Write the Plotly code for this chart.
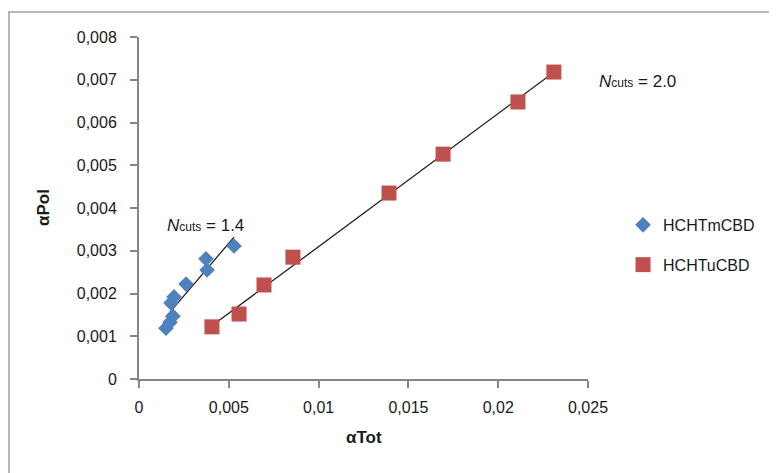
import numpy as np
import plotly.graph_objects as go

# Data
m_tot = [0.00150, 0.00173, 0.00189, 0.00178, 0.00195, 0.00262, 0.00373, 0.00379, 0.00529]
m_pol = [0.00119, 0.00133, 0.00147, 0.00178, 0.00192, 0.00222, 0.00281, 0.00255, 0.00311]
u_tot = [0.00406, 0.00557, 0.00696, 0.00857, 0.01392, 0.01693, 0.02110, 0.02310]
u_pol = [0.00122, 0.00152, 0.00220, 0.00285, 0.00435, 0.00526, 0.00648, 0.00718]
x_ticks = [0, 0.005, 0.01, 0.015, 0.02, 0.025]
x_labels = ["0", "0,005", "0,01", "0,015", "0,02", "0,025"]
y_ticks = [0, 0.001, 0.002, 0.003, 0.004, 0.005, 0.006, 0.007, 0.008]
y_labels = ["0", "0,001", "0,002", "0,003", "0,004", "0,005", "0,006", "0,007", "0,008"]

BLUE = "#4F81BD"
RED = "#C0504D"
FONT = "Liberation Sans"
TXT = "#1a1a1a"
X_MAX = 0.025
Y_MAX = 0.008

def trend(xs, ys):
    k, b = np.polyfit(xs, ys, 1)
    x0, x1 = min(xs), max(xs)
    return [x0, x1], [k * x0 + b, k * x1 + b]

fig = go.Figure()
tx, ty = trend(m_tot, m_pol)
fig.add_trace(go.Scatter(x=tx, y=ty, mode="lines", line=dict(color="#202020", width=1.3),
                         showlegend=False, hoverinfo="skip"))
tx, ty = trend(u_tot, u_pol)
fig.add_trace(go.Scatter(x=tx, y=ty, mode="lines", line=dict(color="#202020", width=1.3),
                         showlegend=False, hoverinfo="skip"))
fig.add_trace(go.Scatter(x=m_tot, y=m_pol, mode="markers", name="HCHTmCBD", legendgroup="m",
                         marker=dict(symbol="diamond", size=12, color=BLUE)))
fig.add_trace(go.Scatter(x=u_tot, y=u_pol, mode="markers", name="HCHTuCBD", legendgroup="u",
                         marker=dict(symbol="square", size=15, color=RED)))

axis_common = dict(showgrid=False, zeroline=False, showline=True, linecolor="#868686",
                   linewidth=2, ticks="outside", tickcolor="#868686", ticklen=7, tickwidth=1.5,
                   tickfont=dict(family=FONT, size=16, color=TXT))
fig.update_xaxes(range=[0, X_MAX], tickvals=x_ticks, ticktext=x_labels,
                 ticklabelstandoff=6, **axis_common)
fig.update_yaxes(range=[0, Y_MAX], tickvals=y_ticks, ticktext=y_labels,
                 ticklabelstandoff=10, **axis_common)

# axis titles
fig.add_annotation(x=-0.2138, y=0.5, xref="paper", yref="paper", showarrow=False,
                   text="<b>αPol</b>", textangle=-90, xanchor="center", yanchor="middle",
                   font=dict(family=FONT, size=17, color=TXT))
fig.add_annotation(x=0.5, y=-0.1725, xref="paper", yref="paper", showarrow=False,
                   text="<b>αTot</b>", xanchor="center", yanchor="middle",
                   font=dict(family=FONT, size=17, color=TXT))

fig.add_annotation(x=0.00373, y=0.00360, xref="x", yref="y", showarrow=False,
                   xanchor="center", yanchor="middle",
                   text="<i>N</i><span style='font-size:12px'>cuts</span> = 1.4",
                   font=dict(family=FONT, size=17, color=TXT))
fig.add_annotation(x=0.02778 / X_MAX, y=0.00697 / Y_MAX, xref="paper", yref="paper",
                   showarrow=False, xanchor="center", yanchor="middle",
                   text="<i>N</i><span style='font-size:12px'>cuts</span> = 2.0",
                   font=dict(family=FONT, size=17, color=TXT))

# outer chart border
fig.add_shape(type="rect", xref="paper", yref="paper", x0=-0.2895, x1=1.45, y0=-0.5, y1=1.073,
              line=dict(color="#A0A0A0", width=1.5), fillcolor="rgba(0,0,0,0)", layer="below")

fig.update_layout(
    width=777, height=473,
    margin=dict(l=131, r=197, t=29, b=102),
    plot_bgcolor="white", paper_bgcolor="white",
    showlegend=True,
    legend=dict(x=1.078, y=0.392, xanchor="left", yanchor="middle",
                font=dict(family=FONT, size=16, color=TXT),
                tracegroupgap=16, itemwidth=30,
                bgcolor="rgba(0,0,0,0)"),
)

fig.write_html("out.html")
